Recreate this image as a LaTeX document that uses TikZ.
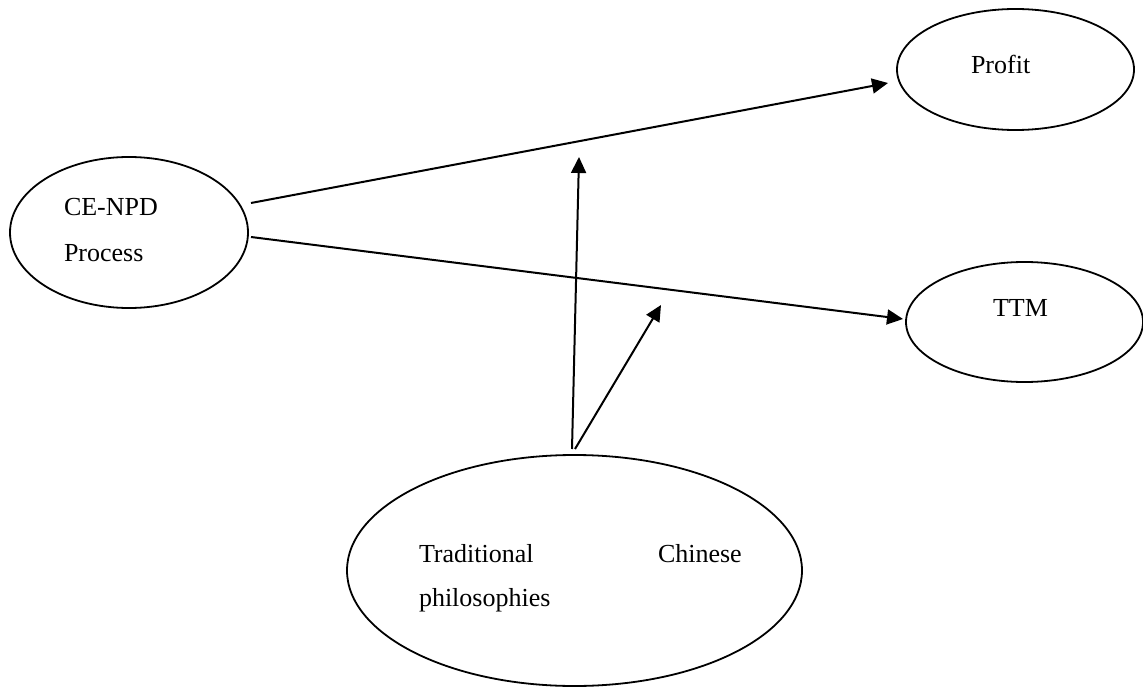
\documentclass[tikz,border=0pt]{standalone}
\usepackage{fontspec}
\setmainfont{Liberation Serif}
\usetikzlibrary{arrows.meta,shapes.geometric}
\begin{document}
\begin{tikzpicture}[x=1pt,y=-1pt,line width=2pt,
  oval/.style={draw,ellipse,line width=1.8pt,inner sep=0pt,outer sep=0pt},
  lbl/.style={anchor=base west,inner sep=0pt,font=\fontsize{26}{30}\selectfont},
  arr/.style={-{Triangle[length=16pt,width=15pt]}}]
\useasboundingbox (0,0) rectangle (1143,687);
% ellipses
\node[oval,minimum width=238pt,minimum height=151pt] (cenpd) at (129,232.5) {};
\node[oval,minimum width=237pt,minimum height=121pt] (profit) at (1015.5,69.5) {};
\node[oval,minimum width=237pt,minimum height=120pt] (ttm) at (1024.5,322) {};
\node[oval,minimum width=455pt,minimum height=231pt] (trad) at (574.5,570.5) {};
% labels
\node[lbl] (l1) at (63,216) {CE-NPD};
\node[lbl] (l2) at (63,261) {Process};
\node[lbl] (l3) at (970,74) {Profit};
\node[lbl] (l4) at (992,316) {TTM};
\node[lbl] (l5) at (418,562) {Traditional};
\node[lbl] (l6) at (657,562) {Chinese};
\node[lbl] (l7) at (418,606) {philosophies};
% connector endpoints
\coordinate (s1) at (251,203);
\coordinate (e1) at (888,83);
\coordinate (s2) at (251,237);
\coordinate (e2) at (903,319);
\coordinate (s3) at (572,449);
\coordinate (e3) at (579,157);
\coordinate (s4) at (575,449);
\coordinate (e4) at (661,305);
% connectors
\draw[arr] (s1) -- (e1);
\draw[arr] (s2) -- (e2);
\draw[arr] (s3) -- (e3);
\draw[arr] (s4) -- (e4);
\end{tikzpicture}
\end{document}
